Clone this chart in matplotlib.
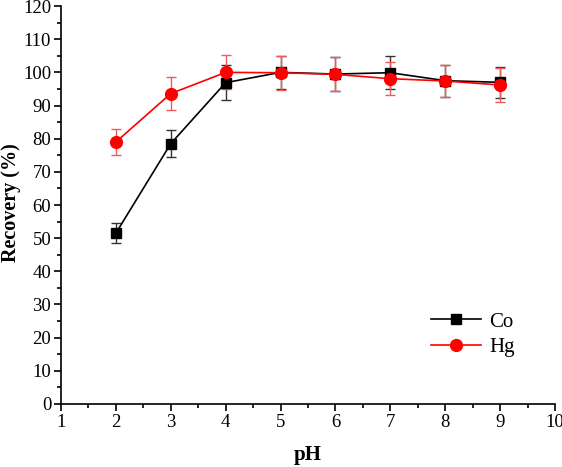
import numpy as np
import matplotlib.pyplot as plt
from matplotlib.ticker import MultipleLocator

plt.rcParams['font.family'] = ['Liberation Serif', 'DejaVu Serif']

ph = [2, 3, 4, 5, 6, 7, 8, 9]
co = [51.5, 78.5, 96.9, 100.0, 99.5, 99.9, 97.5, 97.0]
co_err = [3.0, 4.0, 5.2, 5.0, 5.0, 5.0, 4.8, 4.7]
hg = [79.0, 93.6, 100.0, 99.9, 99.4, 98.1, 97.4, 96.2]
hg_err = [4.0, 5.0, 5.1, 5.1, 5.1, 5.0, 4.9, 5.0]

fig = plt.figure(figsize=(5.62, 4.67), dpi=100)
ax = fig.add_axes([0.1085, 0.135, 0.879, 0.852])

ax.errorbar(ph, co, yerr=co_err, color='black', marker='s', markersize=6.5,
            lw=1.2, capsize=3.5, elinewidth=1.0, capthick=1.0, label='Co',
            ecolor=(0.2, 0.2, 0.2))
ax.errorbar(ph, hg, yerr=hg_err, color='red', marker='o', markersize=8.5,
            lw=1.2, capsize=3.5, elinewidth=1.0, capthick=1.0, label='Hg',
            ecolor=(0.95, 0.35, 0.35))

ax.set_xlim(1, 10)
ax.set_ylim(0, 120)
ax.xaxis.set_major_locator(MultipleLocator(1))
ax.xaxis.set_minor_locator(MultipleLocator(0.5))
ax.yaxis.set_major_locator(MultipleLocator(10))
ax.yaxis.set_minor_locator(MultipleLocator(5))
ax.tick_params(which='major', direction='out', length=5, width=1.2, labelsize=13.5, pad=2)
ax.tick_params(which='minor', direction='out', length=3, width=1.2)
ax.spines['top'].set_visible(False)
ax.spines['right'].set_visible(False)
ax.spines['left'].set_linewidth(1.2)
ax.spines['bottom'].set_linewidth(1.2)

ax.set_xlabel('pH', fontsize=15, fontweight='bold', labelpad=10)
ax.set_ylabel('Recovery (%)', fontsize=14.5, fontweight='bold')
ax.yaxis.set_label_coords(-0.08, 0.505)

handles, labels = ax.get_legend_handles_labels()
handles = [h[0] for h in handles]
ax.legend(handles, labels, loc='lower right', bbox_to_anchor=(0.956, 0.07),
          frameon=False, fontsize=15, handlelength=2.4, handletextpad=0.4,
          labelspacing=0.3)

fig.savefig('out.png', dpi=100)
